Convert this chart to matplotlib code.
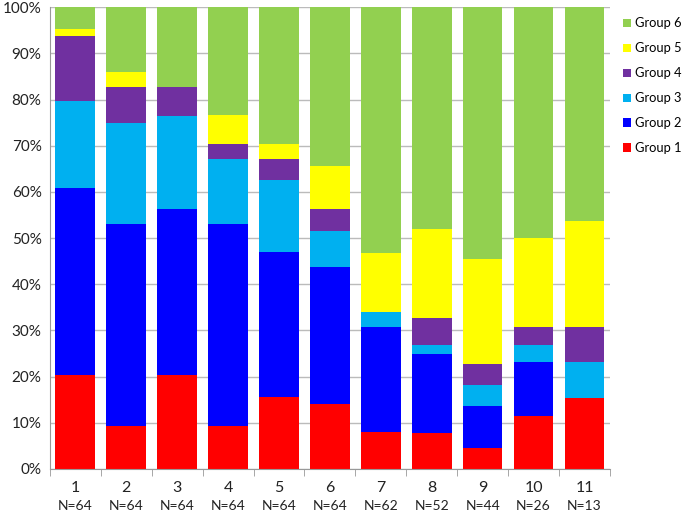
import matplotlib
matplotlib.use("Agg")
from matplotlib import pyplot as plt
from matplotlib.patches import Patch
import numpy as np

plt.rcParams["font.family"] = ["Lato", "DejaVu Sans"]

categories = ["1", "2", "3", "4", "5", "6", "7", "8", "9", "10", "11"]
n_labels = ["N=64", "N=64", "N=64", "N=64", "N=64", "N=64", "N=62", "N=52", "N=44", "N=26", "N=13"]

# percent per group, bottom to top
group1 = [20.3, 9.4, 20.3, 9.4, 15.6, 14.1, 8.1, 7.7, 4.5, 11.5, 15.4]
group2 = [40.6, 43.7, 35.9, 43.7, 31.3, 29.7, 22.6, 17.3, 9.1, 11.6, 0.0]
group3 = [18.8, 21.9, 20.3, 14.1, 15.6, 7.8, 3.2, 1.9, 4.6, 3.8, 7.7]
group4 = [14.1, 7.8, 6.3, 3.1, 4.7, 4.7, 0.0, 5.8, 4.5, 3.9, 7.7]
group5 = [1.5, 3.1, 0.0, 6.3, 3.1, 9.4, 12.9, 19.2, 22.8, 19.2, 23.0]
group6 = [4.7, 14.1, 17.2, 23.4, 29.7, 34.3, 53.2, 48.1, 54.5, 50.0, 46.2]

groups = [group1, group2, group3, group4, group5, group6]
names = ["Group 1", "Group 2", "Group 3", "Group 4", "Group 5", "Group 6"]
colors = ["#FF0000", "#0000FF", "#00B0F0", "#7030A0", "#FFFF00", "#92D050"]

fig = plt.figure(figsize=(6.83, 5.12), dpi=100)
ax = fig.add_axes([0.073, 0.084, 0.820, 0.902])

x = np.arange(len(categories))
bottom = np.zeros(len(categories))
for vals, name, c in zip(groups, names, colors):
    ax.bar(x, vals, bottom=bottom, width=0.78, color=c, label=name, zorder=2)
    bottom += np.array(vals)

ax.set_xlim(-0.5, len(categories) - 0.5)
ax.set_ylim(0, 100)
ax.set_yticks(np.arange(0, 101, 10))
ax.set_yticklabels([f"{v}%" for v in range(0, 101, 10)], fontsize=11, color="#222222")
ax.yaxis.grid(True, color="#BBBBBB", linewidth=1, zorder=0)
ax.set_axisbelow(True)
ax.tick_params(axis="y", length=0, pad=6)

ax.set_xticks(x)
ax.set_xticklabels(categories, fontsize=11.5, color="#222222")
ax.tick_params(axis="x", which="major", length=0, pad=9)
ax.set_xticks(np.arange(-0.5, len(categories), 1), minor=True)
ax.tick_params(axis="x", which="minor", length=5, color="#999999")

for i, lab in enumerate(n_labels):
    ax.text(i, -8.1, lab, ha="center", va="center", fontsize=10, color="#222222")

for s in ["top", "right"]:
    ax.spines[s].set_visible(False)
for s in ["left", "bottom"]:
    ax.spines[s].set_color("#999999")

handles = [Patch(facecolor=c, label=n) for n, c in zip(names, colors)][::-1]
fig.legend(handles=handles, loc="upper left", bbox_to_anchor=(0.912, 0.966),
           frameon=False, fontsize=9.3, handlelength=0.6, handleheight=0.6,
           handletextpad=0.3, labelspacing=1.0, borderaxespad=0, borderpad=0)

fig.savefig("out.png", dpi=100)
